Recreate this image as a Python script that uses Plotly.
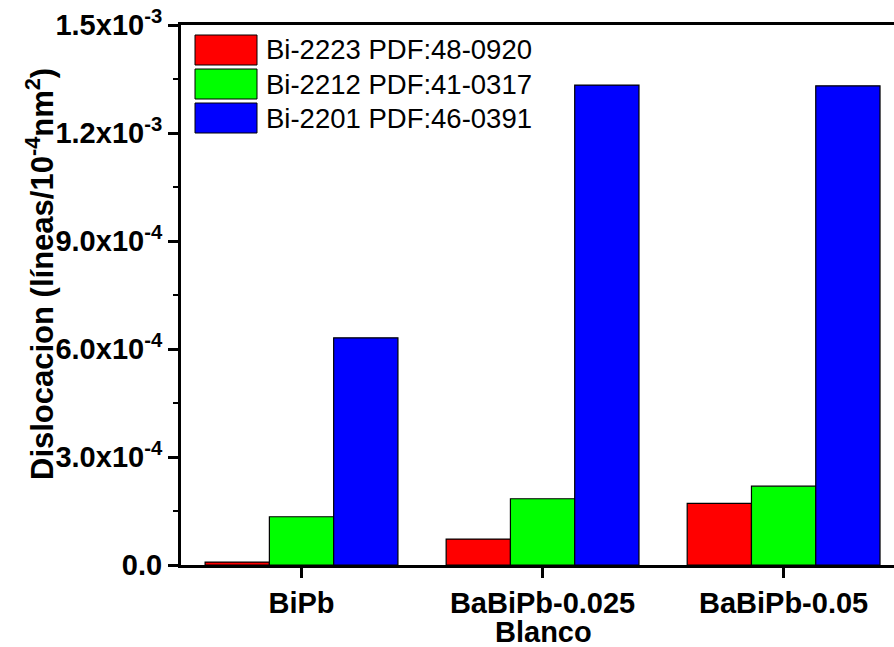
import plotly.graph_objects as go

categories = ["BiPb", "BaBiPb-0.025", "BaBiPb-0.05"]
series_names = ["Bi-2223 PDF:48-0920", "Bi-2212 PDF:41-0317", "Bi-2201 PDF:46-0391"]
bi2223 = [8e-6, 7.2e-5, 1.71e-4]
bi2212 = [1.34e-4, 1.84e-4, 2.19e-4]
bi2201 = [6.31e-4, 1.333e-3, 1.331e-3]
colors = ["#ff0000", "#00ff00", "#0000ff"]
ytick_vals = [0, 3e-4, 6e-4, 9e-4, 1.2e-3, 1.5e-3]
ytick_text = ["0.0", "3.0x10<sup>-4</sup>", "6.0x10<sup>-4</sup>", "9.0x10<sup>-4</sup>",
              "1.2x10<sup>-3</sup>", "1.5x10<sup>-3</sup>"]

FONT = "Liberation Sans, Arial, sans-serif"

fig = go.Figure()
for name, vals, col in zip(series_names, [bi2223, bi2212, bi2201], colors):
    fig.add_trace(go.Bar(x=categories, y=vals, name=name,
                         marker=dict(color=col, line=dict(color="black", width=1.2))))

# custom legend (large patches, like the original)
shapes = []
annotations = []
pw, ph = 713.0, 540.0
for i, (name, col) in enumerate(zip(series_names, colors)):
    top = 35 + 34 * i
    shapes.append(dict(type="rect", xref="paper", yref="paper",
                       x0=14 / pw, x1=76 / pw, y0=(565 - top - 30) / ph,
                       y1=(565 - top) / ph,
                       fillcolor=col, line=dict(color="black", width=1)))
    annotations.append(dict(xref="paper", yref="paper", x=83 / pw,
                            y=(565 - (top + 15)) / ph, text=name, showarrow=False,
                            xanchor="left", yanchor="middle",
                            font=dict(family=FONT, size=27.5, color="black")))

annotations.append(dict(xref="paper", yref="paper", x=-141 / pw, y=(565 - 274) / ph,
                        text="<b>Dislocacion (líneas/10<sup>-4</sup>nm<sup>2</sup>)</b>",
                        textangle=-90, showarrow=False, xanchor="center", yanchor="middle",
                        font=dict(family=FONT, size=31, color="black")))
annotations.append(dict(xref="paper", yref="paper", x=(543 - 181) / pw, y=-(632 - 565) / ph,
                        text="<b>Blanco</b>", showarrow=False, xanchor="center", yanchor="middle",
                        font=dict(family=FONT, size=29, color="black")))

fig.update_layout(
    width=894, height=647,
    margin=dict(l=181, r=0, t=25, b=82),
    paper_bgcolor="white", plot_bgcolor="white",
    barmode="group", bargap=0.2, bargroupgap=0,
    showlegend=False,
    shapes=shapes, annotations=annotations,
    font=dict(family=FONT, color="black"),
)
fig.update_xaxes(range=[-0.5, 2.458], showline=True, linecolor="black", linewidth=3,
                 mirror=True, ticks="outside", ticklen=10, tickwidth=2.5, tickcolor="black",
                 tickfont=dict(family=FONT, size=29, color="black", weight="bold"),
                 showgrid=False, zeroline=False)
fig.update_yaxes(range=[0, 1.5e-3], showline=True, linecolor="black", linewidth=3,
                 tickmode="array", tickvals=ytick_vals, ticktext=ytick_text,
                 ticks="outside", ticklen=10, tickwidth=2.5, tickcolor="black",
                 tickfont=dict(family=FONT, size=29, color="black", weight="bold"),
                 minor=dict(tickmode="linear", tick0=0, dtick=1.5e-4, ticks="outside",
                            ticklen=5, tickwidth=2, tickcolor="black"),
                 showgrid=False, zeroline=False)

fig.write_html("out.html")
